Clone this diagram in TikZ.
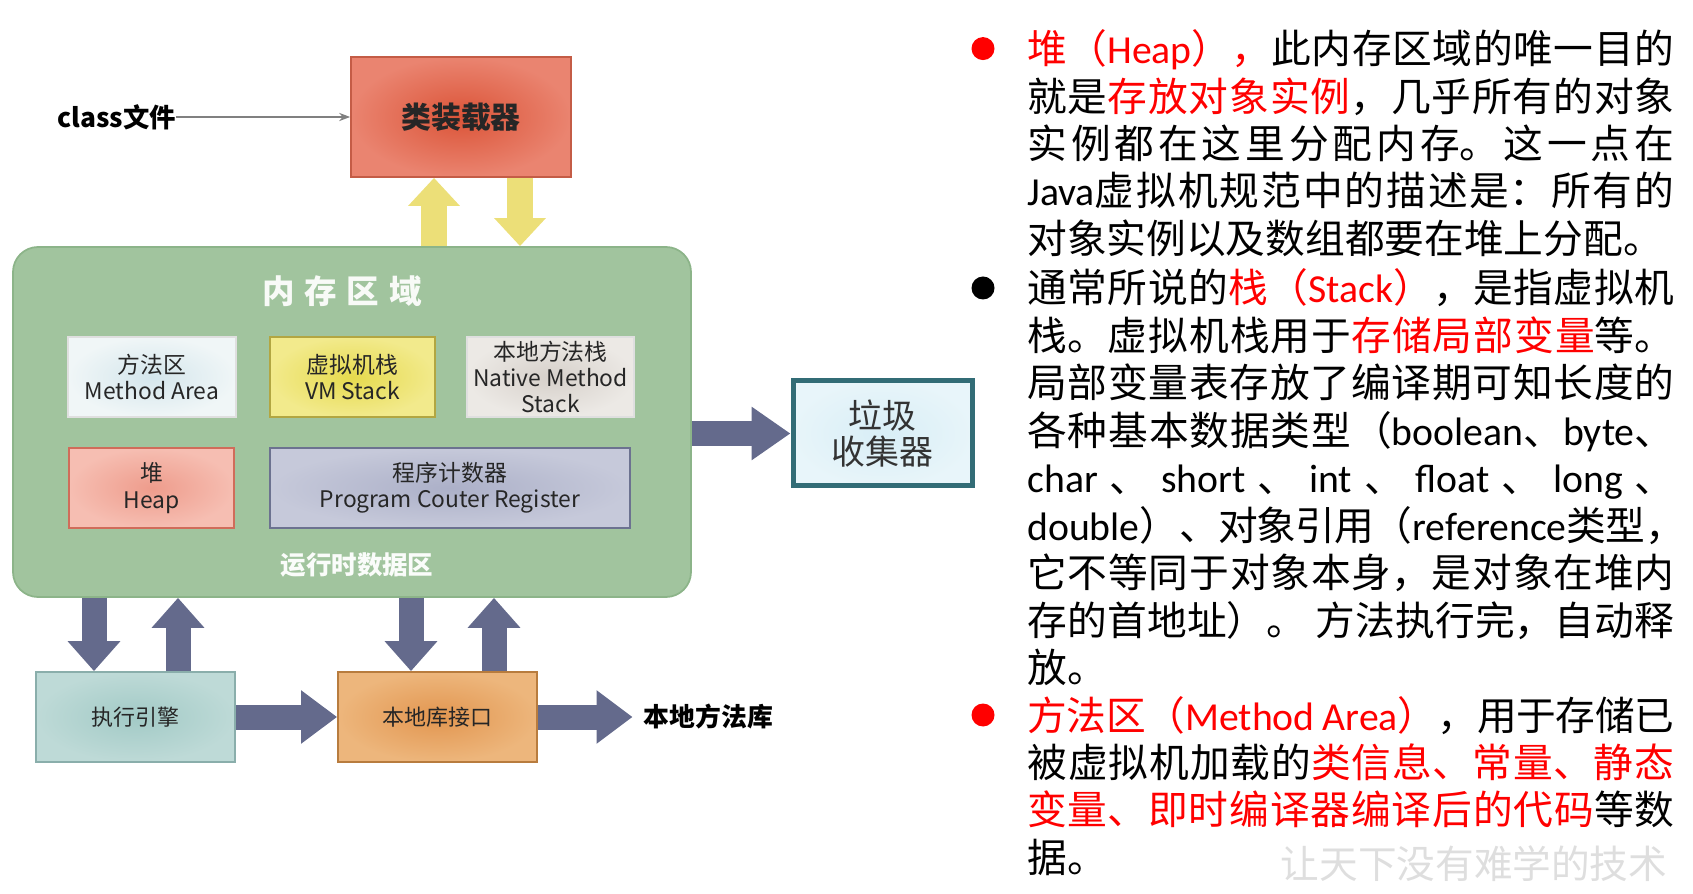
\documentclass[tikz,border=0pt]{standalone}
\usepackage{fontspec}
\setmainfont{Noto Sans CJK SC}
\newfontfamily\lat{Carlito}
\usepackage{xcolor}
\usepackage{tikz}
\usetikzlibrary{arrows.meta, positioning}

\definecolor{loaderin}{RGB}{219,84,56}
\definecolor{loaderout}{RGB}{234,132,112}
\definecolor{loaderline}{RGB}{196,92,70}
\definecolor{memgreen}{RGB}{161,196,158}
\definecolor{memline}{RGB}{140,180,137}
\definecolor{methodin}{RGB}{212,230,236}
\definecolor{methodout}{RGB}{240,246,247}
\definecolor{vmin}{RGB}{230,218,78}
\definecolor{vmout}{RGB}{242,234,140}
\definecolor{vmline}{RGB}{178,166,66}
\definecolor{nativein}{RGB}{214,208,202}
\definecolor{nativeout}{RGB}{236,233,229}
\definecolor{heapin}{RGB}{238,156,140}
\definecolor{heapout}{RGB}{246,190,178}
\definecolor{heapline}{RGB}{208,108,90}
\definecolor{pcin}{RGB}{172,176,200}
\definecolor{pcout}{RGB}{198,201,218}
\definecolor{pcline}{RGB}{108,114,144}
\definecolor{gcfill}{RGB}{216,238,246}
\definecolor{gcline}{RGB}{50,108,118}
\definecolor{exein}{RGB}{162,202,198}
\definecolor{exeout}{RGB}{190,218,215}
\definecolor{exeline}{RGB}{138,174,171}
\definecolor{intfin}{RGB}{226,150,80}
\definecolor{intfout}{RGB}{237,182,124}
\definecolor{intfline}{RGB}{184,124,62}
\definecolor{arrowblue}{RGB}{100,106,140}
\definecolor{arrowyellow}{RGB}{236,223,120}

\newcommand\redtxt[1]{\textcolor{red}{#1}}

\XeTeXlinebreaklocale "zh"
\XeTeXlinebreakskip=0pt plus 2pt minus 0.6pt
\XeTeXlinebreakpenalty=10000
\hyphenpenalty=10000
\exhyphenpenalty=10000
\tolerance=10000

\begin{document}
\begin{tikzpicture}[x=1cm, y=-1cm,
    every node/.style={inner sep=0pt, align=center},
    box/.style={draw, line width=1pt, minimum height=1.6cm, text=black!85,
      font=\fontsize{13pt}{15pt}\selectfont},
    bigbox/.style={draw, line width=1pt, minimum width=3.98cm, minimum height=1.8cm,
      text=black!85, font=\fontsize{12.5pt}{15pt}\selectfont},
    blk/.style={draw=arrowblue, line width=0.5cm, -{Triangle[width=1.02cm, length=#1]}},
    blk/.default=0.6cm,
    yblk/.style={draw=arrowyellow, line width=0.52cm, -{Triangle[width=1cm, length=0.56cm]}},
    para/.style={anchor=base west, text width=12.94cm, align=justify,
      font=\fontsize{22.6pt}{27pt}\selectfont},
    bulletdot/.style={circle, minimum size=0.46cm}
  ]
  \useasboundingbox (0,0) rectangle (33.86,17.88);

  % class loader
  \node[draw=loaderline, line width=1pt, inner color=loaderin, outer color=loaderout,
    minimum width=4.4cm, minimum height=2.4cm, text=black!85,
    font=\fontsize{17pt}{20pt}\selectfont\bfseries] (loader) at (9.22,2.34) {类装载器};
  \node[font=\fontsize{15pt}{18pt}\selectfont\bfseries] (cls) at (2.33,2.34) {class文件};
  \draw[gray, line width=0.8pt, -{Stealth[length=2.2mm]}] (cls.east) -- (loader.west);

  % runtime data area
  \node[draw=memline, line width=1pt, fill=memgreen, rounded corners=0.5cm,
    minimum width=13.56cm, minimum height=7cm] (mem) at (7.04,8.44) {};
  \node[text=white!92!memgreen, font=\fontsize{18.5pt}{20pt}\selectfont\bfseries] (memtitle) at (6.84,5.82)
    {内\hspace{0.3em}存\hspace{0.3em}区\hspace{0.3em}域};
  \node[text=white!95!memgreen, font=\fontsize{14.5pt}{16pt}\selectfont\bfseries] (rtdata) at (7.14,11.30)
    {运行时数据区};

  \node[box, draw=white!75!gray, inner color=methodin, outer color=methodout,
    minimum width=3.36cm] (methodarea) at (3.04,7.54) {方法区\\Method Area};
  \node[box, draw=vmline, inner color=vmin, outer color=vmout,
    minimum width=3.3cm] (vmstack) at (7.05,7.54) {虚拟机栈\\VM Stack};
  \node[box, draw=white!75!gray, inner color=nativein, outer color=nativeout,
    minimum width=3.34cm] (nativestack) at (11.01,7.54) {本地方法栈\\Native Method\\Stack};
  \node[box, draw=heapline, inner color=heapin, outer color=heapout,
    minimum width=3.3cm] (heap) at (3.03,9.76) {堆\\Heap};
  \node[box, draw=pcline, inner color=pcin, outer color=pcout,
    minimum width=7.2cm] (pc) at (9.0,9.76) {程序计数器\\Program Couter Register};

  % garbage collector
  \node[draw=gcline, line width=0.1cm, inner color=gcfill, outer color=gcfill!60!white,
    minimum width=3.58cm, minimum height=2.1cm, text=black!80,
    font=\fontsize{19.3pt}{20.5pt}\selectfont] (gc) at (17.65,8.67) {垃圾\\收集器};

  % engine and native interface
  \node[bigbox, draw=exeline, inner color=exein, outer color=exeout] (exe) at (2.71,14.34) {执行引擎};
  \node[bigbox, draw=intfline, inner color=intfin, outer color=intfout] (intf) at (8.75,14.34) {本地库接口};
  \node[inner xsep=0.22cm, font=\fontsize{14.7pt}{16pt}\selectfont\bfseries] (lib) at (14.17,14.34) {本地方法库};

  % block arrows
  \draw[yblk] ([xshift=-0.54cm]loader.south |- mem.north) -- ([xshift=-0.54cm]loader.south);
  \draw[yblk] ([xshift=1.18cm]loader.south) -- ([xshift=1.18cm]loader.south |- mem.north);
  \draw[blk=0.78cm] (gc.west -| mem.east) -- (gc.west);
  \draw[blk] ([xshift=-0.83cm]exe.north |- mem.south) -- ([xshift=-0.83cm]exe.north);
  \draw[blk] ([xshift=0.85cm]exe.north) -- ([xshift=0.85cm]exe.north |- mem.south);
  \draw[blk] ([xshift=-0.53cm]intf.north |- mem.south) -- ([xshift=-0.53cm]intf.north);
  \draw[blk] ([xshift=1.13cm]intf.north) -- ([xshift=1.13cm]intf.north |- mem.south);
  \draw[blk=0.72cm] (exe) -- (intf);
  \draw[blk=0.72cm] (intf) -- (lib);

  % notes on the right
  \node[bulletdot, fill=red] (b1) at (19.66,0.972) {};
  \node[bulletdot, fill=black] (b2) at (19.66,5.76) {};
  \node[bulletdot, fill=red] (b3) at (19.66,14.30) {};

  \node[para] (heapnote) at (20.54,1.272) {\redtxt{堆（{\lat Heap}），}此内存区域的唯一目的\break
就是\redtxt{存放对象实例}，几乎所有的对象\break
实例都在这里分配内存。这一点在\break
{\lat Java}虚拟机规范中的描述是：所有的\break
对象实例以及数组都要在堆上分配。};

  \node[para] (stacknote) at (20.54,6.06) {通常所说的\redtxt{栈（{\lat Stack}）}，是指虚拟机\break
栈。虚拟机栈用于\redtxt{存储局部变量}等。\break
局部变量表存放了编译期可知长度的\break
各种基本数据类型（{\lat boolean}、{\lat byte}、\break
{\lat char}~、~{\lat short}~、~{\lat int}~、~{\lat float}~、~{\lat long}~、\break
{\lat double}）、对象引用（{\lat reference}类型，\break
它不等同于对象本身，是对象在堆内\break
存的首地址）。~方法执行完，自动释\break
放。};

  \node[para] (methodnote) at (20.54,14.60) {\redtxt{方法区（{\lat Method~Area}）}，用于存储已\break
被虚拟机加载的\redtxt{类信息、常量、静态}\break
\redtxt{变量、即时编译器编译后的代码}等数\break
据。};

  \node[text=black!13, font=\fontsize{22pt}{24pt}\selectfont] (mark) at (29.48,17.28) {让天下没有难学的技术};
\end{tikzpicture}
\end{document}
